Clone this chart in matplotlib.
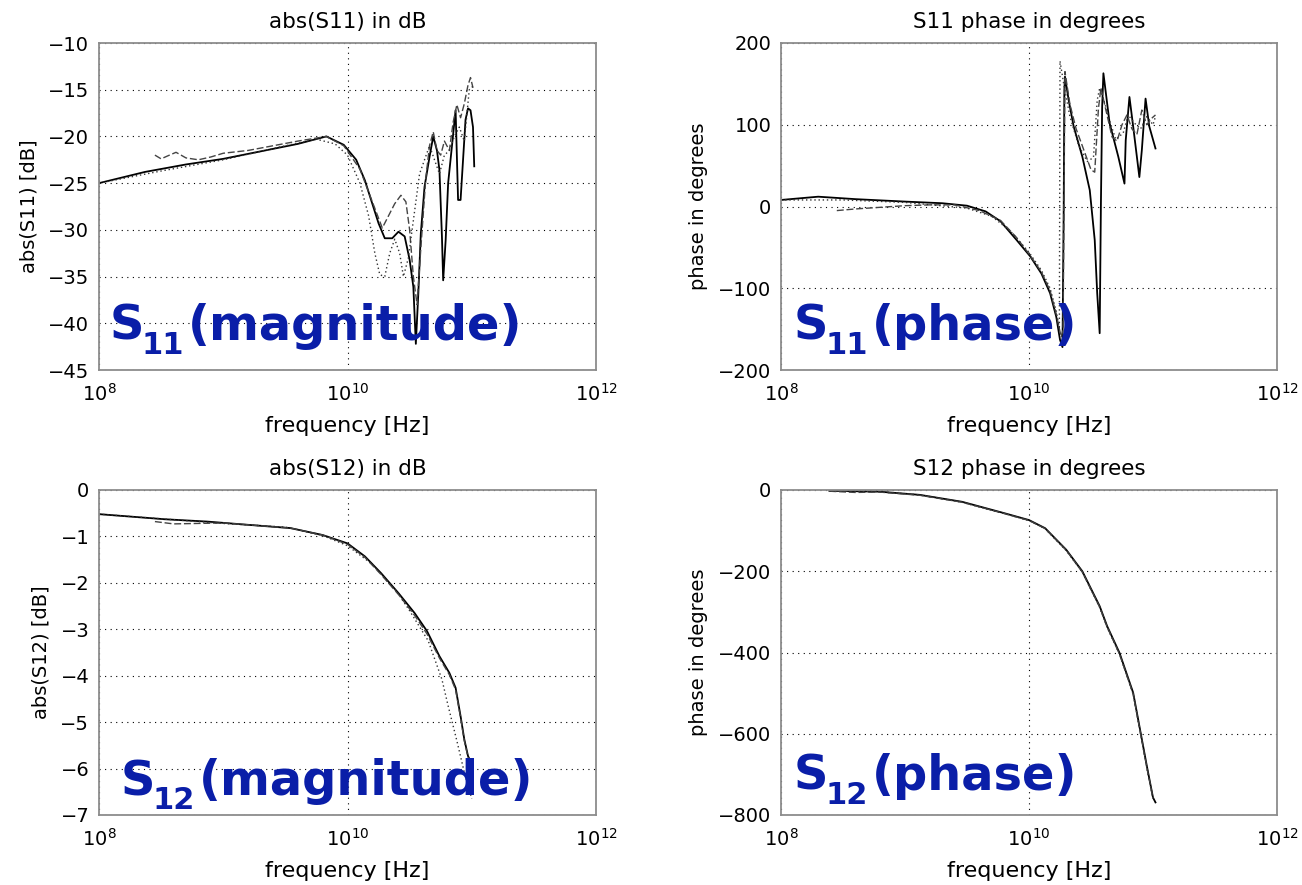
import numpy as np
import matplotlib
matplotlib.use("Agg")
import matplotlib.pyplot as plt

plt.rcParams['font.family'] = ['DejaVu Sans']
plt.rcParams['mathtext.fontset'] = 'dejavusans'

# ---------------- data (log10 of frequency in Hz, values) ----------------
# S11 magnitude [dB]
s11m_solid_logf = [8.0, 8.37, 8.7, 9.0, 9.3, 9.6, 9.83, 9.97, 10.07, 10.14, 10.19, 10.25, 10.30, 10.36,
                   10.41, 10.46, 10.50, 10.53, 10.55, 10.57, 10.59, 10.62, 10.66, 10.69, 10.72, 10.74,
                   10.76, 10.77, 10.79, 10.81, 10.84, 10.87, 10.89, 10.91, 10.93, 10.95, 10.97, 10.99,
                   11.01, 11.02]
s11m_solid_val = [-25.0, -23.8, -23.0, -22.4, -21.6, -20.8, -20.0, -20.9, -22.5, -24.7, -26.8, -29.3,
                  -30.9, -30.9, -30.2, -30.7, -33.2, -36.1, -42.2, -36.8, -30.4, -25.4, -22.2, -20.0,
                  -21.5, -23.6, -30.7, -35.4, -31.1, -25.0, -21.1, -17.2, -26.8, -26.8, -22.5, -18.2,
                  -17.0, -17.2, -19.0, -23.2]
s11m_dash_logf = [8.45, 8.5, 8.55, 8.62, 8.7, 8.8, 8.9, 9.0, 9.2, 9.4, 9.6, 9.83, 9.97, 10.1, 10.2,
                  10.28, 10.33, 10.38, 10.43, 10.47, 10.5, 10.53, 10.56, 10.59, 10.63, 10.66, 10.69,
                  10.72, 10.75, 10.78, 10.82, 10.85, 10.88, 10.91, 10.94, 10.97, 10.99, 11.01]
s11m_dash_val = [-22.0, -22.4, -22.1, -21.7, -22.3, -22.5, -22.2, -21.8, -21.5, -21.0, -20.5, -20.0,
                 -21.0, -23.5, -27.0, -29.8, -28.5, -27.2, -26.3, -27.0, -30.0, -35.0, -38.0, -32.0,
                 -24.5, -21.0, -19.5, -21.5, -22.0, -20.5, -21.5, -18.5, -16.6, -18.0, -16.5, -14.5,
                 -13.7, -14.8]
s11m_dot_logf = [8.0, 8.5, 9.0, 9.5, 9.75, 9.9, 10.0, 10.1, 10.17, 10.22, 10.26, 10.3, 10.34, 10.38,
                 10.42, 10.45, 10.49, 10.52, 10.55, 10.58, 10.62, 10.66, 10.7, 10.74, 10.78, 10.82,
                 10.86, 10.9, 10.94, 10.98, 11.02]
s11m_dot_val = [-25.0, -23.7, -22.5, -21.0, -20.3, -20.8, -22.0, -25.0, -28.5, -32.5, -34.8, -35.0,
                -32.5, -31.0, -32.5, -35.0, -33.0, -30.0, -27.0, -24.0, -22.5, -21.0, -22.5, -24.0,
                -22.0, -21.5, -20.0, -19.0, -20.5, -15.0, -14.5]

# S11 phase [deg]
s11p_solid_logf = [8.0, 8.3, 8.6, 9.0, 9.3, 9.5, 9.65, 9.77, 9.9, 10.01, 10.10, 10.17, 10.22, 10.25,
                   10.27, 10.28, 10.285, 10.29, 10.32, 10.36, 10.43, 10.49, 10.53, 10.55, 10.57, 10.58,
                   10.59, 10.60, 10.65, 10.72, 10.77, 10.78, 10.81, 10.84, 10.89, 10.91, 10.94, 10.97,
                   11.02]
s11p_solid_val = [8, 12, 9, 6, 4, 1, -6, -18, -41, -61, -82, -106, -135, -163, -172, 0, 142, 159, 130,
                  98, 61, 20, -41, -106, -155, 4, 122, 163, 102, 61, 28, 81, 134, 98, 36, 69, 132, 98, 71]
s11p_dash_logf = [8.45, 8.6, 8.8, 9.0, 9.2, 9.4, 9.6, 9.77, 9.9, 10.0, 10.1, 10.17, 10.22, 10.26,
                  10.275, 10.29, 10.33, 10.38, 10.44, 10.5, 10.53, 10.56, 10.58, 10.62, 10.67, 10.71,
                  10.75, 10.79, 10.83, 10.87, 10.91, 10.95, 10.99, 11.02]
s11p_dash_val = [-5, -3, -1, 1, 2, 2, -5, -17, -38, -58, -80, -103, -132, -160, -150, 165, 125, 95, 70,
                 45, 42, 120, 145, 118, 85, 80, 100, 112, 95, 88, 118, 100, 108, 112]
s11p_dot_logf = [8.0, 8.5, 9.0, 9.5, 9.7, 9.85, 10.0, 10.1, 10.17, 10.22, 10.245, 10.25, 10.28, 10.33,
                 10.4, 10.47, 10.52, 10.55, 10.57, 10.6, 10.65, 10.7, 10.76, 10.8, 10.85, 10.9, 10.95,
                 11.0, 11.02]
s11p_dot_val = [8, 8, 5, -2, -12, -30, -56, -78, -100, -128, -150, 178, 150, 110, 75, 55, 60, 130, 145,
                132, 105, 82, 90, 112, 102, 95, 110, 100, 110]

# S12 magnitude [dB]
s12m_solid_logf = [8.0, 8.53, 8.87, 9.2, 9.54, 9.8, 10.0, 10.14, 10.27, 10.41, 10.54, 10.64, 10.74,
                   10.82, 10.87, 10.91, 10.94, 10.97, 10.99]
s12m_solid_val = [-0.52, -0.63, -0.68, -0.75, -0.82, -0.97, -1.15, -1.43, -1.79, -2.22, -2.65, -3.04,
                  -3.58, -3.94, -4.26, -4.87, -5.37, -5.73, -5.84]
s12m_dash_logf = [8.45, 8.6, 8.8, 9.0, 9.2, 9.54, 9.8, 10.0, 10.14, 10.27, 10.41, 10.54, 10.64, 10.74,
                  10.82, 10.87, 10.91, 10.94, 10.97, 10.99]
s12m_dash_val = [-0.68, -0.73, -0.72, -0.71, -0.75, -0.82, -0.97, -1.17, -1.45, -1.82, -2.25, -2.7,
                 -3.1, -3.62, -3.98, -4.3, -4.9, -5.4, -5.75, -5.9]
s12m_dot_logf = [8.0, 8.5, 9.0, 9.5, 9.8, 10.0, 10.2, 10.4, 10.5, 10.65, 10.76, 10.81, 10.88, 10.94, 11.0]
s12m_dot_val = [-0.52, -0.62, -0.72, -0.8, -0.98, -1.2, -1.6, -2.2, -2.6, -3.25, -4.08, -4.65, -5.4,
                -6.08, -6.65]

# S12 phase [deg]
s12p_solid_logf = [8.39, 8.79, 9.12, 9.46, 9.8, 10.0, 10.13, 10.3, 10.43, 10.57, 10.63, 10.73, 10.84,
                   10.9, 10.95, 11.0, 11.02]
s12p_solid_val = [-2, -4, -12, -29, -57, -74, -94, -147, -200, -286, -335, -401, -499, -597, -679, -757, -769]
s12p_dash_logf = [8.39, 8.6, 8.79, 9.12, 9.46, 9.8, 10.0, 10.13, 10.3, 10.43, 10.57, 10.63, 10.73,
                  10.84, 10.9, 10.95, 11.0]
s12p_dash_val = [-3, -6, -5, -13, -30, -58, -75, -95, -148, -202, -288, -337, -404, -502, -600, -682, -758]
s12p_dot_logf = [8.39, 8.79, 9.12, 9.46, 9.8, 10.0, 10.13, 10.3, 10.43, 10.57, 10.63, 10.73, 10.84,
                 10.9, 10.95, 11.0]
s12p_dot_val = [-2, -4, -12, -30, -58, -75, -95, -149, -202, -289, -338, -404, -502, -600, -683, -760]

xtick_vals = [1e8, 1e10, 1e12]
xtick_labels = [r'$10^{8}$', r'$10^{10}$', r'$10^{12}$']

panels = [
    dict(title='abs(S11) in dB', ylabel='abs(S11) [dB]', ylim=(-45, -10),
         yticks=[-45, -40, -35, -30, -25, -20, -15, -10],
         series=[(s11m_solid_logf, s11m_solid_val), (s11m_dash_logf, s11m_dash_val),
                 (s11m_dot_logf, s11m_dot_val)],
         note=('S', '11', '(magnitude)')),
    dict(title='S11 phase in degrees', ylabel='phase in degrees', ylim=(-200, 200),
         yticks=[-200, -100, 0, 100, 200],
         series=[(s11p_solid_logf, s11p_solid_val), (s11p_dash_logf, s11p_dash_val),
                 (s11p_dot_logf, s11p_dot_val)],
         note=('S', '11', '(phase)')),
    dict(title='abs(S12) in dB', ylabel='abs(S12) [dB]', ylim=(-7, 0),
         yticks=[-7, -6, -5, -4, -3, -2, -1, 0],
         series=[(s12m_solid_logf, s12m_solid_val), (s12m_dash_logf, s12m_dash_val),
                 (s12m_dot_logf, s12m_dot_val)],
         note=('S', '12', '(magnitude)')),
    dict(title='S12 phase in degrees', ylabel='phase in degrees', ylim=(-800, 0),
         yticks=[-800, -600, -400, -200, 0],
         series=[(s12p_solid_logf, s12p_solid_val), (s12p_dash_logf, s12p_dash_val),
                 (s12p_dot_logf, s12p_dot_val)],
         note=('S', '12', '(phase)')),
]

W, H = 1302, 885
fig = plt.figure(figsize=(W / 100, H / 100), dpi=100)
fig.patch.set_facecolor('white')
renderer = fig.canvas.get_renderer()

# axes boxes in pixels: (left, top, right, bottom)
boxes = [(99, 43, 596, 370), (781, 43, 1277, 370), (99, 490, 596, 815), (781, 490, 1277, 815)]
note_pos = [(110, 340), (794, 340), (121, 795), (794, 790)]
note_color = '#0a1ea8'

styles = [dict(color='black', lw=1.3, ls='-'),
          dict(color='#444444', lw=1.0, ls=(0, (5, 2))),
          dict(color='#333333', lw=1.0, ls=(0, (1, 2)))]

for p, (l, t, r, b), (nx, ny) in zip(panels, boxes, note_pos):
    ax = fig.add_axes([l / W, 1 - b / H, (r - l) / W, (b - t) / H])
    for (lf, v), st in zip(p['series'], styles):
        ax.plot(10 ** np.array(lf), v, **st)
    ax.set_xscale('log')
    ax.set_xlim(1e8, 1e12)
    ax.set_ylim(*p['ylim'])
    ax.set_xticks(xtick_vals)
    ax.set_xticklabels(xtick_labels)
    ax.xaxis.set_minor_locator(matplotlib.ticker.NullLocator())
    ax.set_yticks(p['yticks'])
    ax.tick_params(axis='both', length=0, labelsize=14, colors='black')
    ax.tick_params(axis='x', pad=9)
    ax.tick_params(axis='y', pad=7)
    ax.grid(True, color='black', lw=0.8, ls=(0, (1, 4)))
    for s in ax.spines.values():
        s.set_color('#8c8c8c')
        s.set_linewidth(1.3)
    ax.set_title(p['title'], fontsize=15.5, pad=11)
    ax.set_xlabel('frequency [Hz]', fontsize=16, labelpad=8)
    ax.set_ylabel(p['ylabel'], fontsize=14, labelpad=7)

    # blue annotation: main letter, subscript, rest
    main, sub, rest = p['note']
    t1 = fig.text(nx / W, 1 - ny / H, main, fontsize=34.5, weight='bold', color=note_color,
                  ha='left', va='baseline')
    bb1 = t1.get_window_extent(renderer)
    t2 = fig.text((bb1.x1 - 3) / W, 1 - (ny + 14) / H, sub, fontsize=22, weight='bold',
                  color=note_color, ha='left', va='baseline')
    bb2 = t2.get_window_extent(renderer)
    fig.text((bb2.x1 + 4) / W, 1 - ny / H, rest, fontsize=34.5, weight='bold', color=note_color,
             ha='left', va='baseline')

fig.savefig('out.png', dpi=100, facecolor='white')
